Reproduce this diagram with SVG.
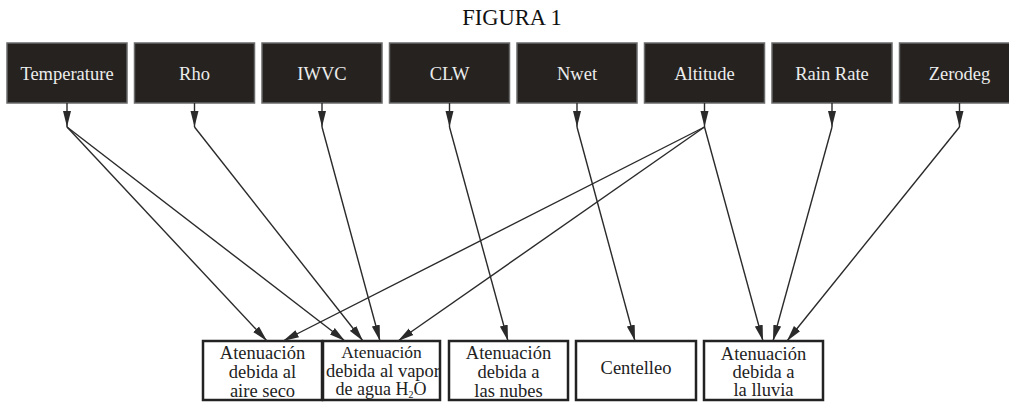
<svg xmlns="http://www.w3.org/2000/svg" width="1009" height="403" viewBox="0 0 1009 403" font-family="'Liberation Serif', 'Times New Roman', serif">
<style>
.top rect{fill:#252220;stroke:#6a6a6a;stroke-width:1.5}
.top text{fill:#ececec;font-family:'Liberation Serif','Times New Roman',serif;font-size:18.5px;text-anchor:middle}
.bot rect{fill:#fff;stroke:#222;stroke-width:2.5}
.bot text{fill:#222;font-family:'Liberation Serif','Times New Roman',serif;font-size:18.5px;text-anchor:middle}
.edges line{stroke:#2a2a2a;stroke-width:1.4;fill:none;marker-end:url(#ah)}
.title{font-family:'Liberation Serif','Times New Roman',serif;font-size:22.5px;fill:#111;text-anchor:middle}
</style>
<defs>
<marker id="ah" markerUnits="userSpaceOnUse" markerWidth="17" markerHeight="9" refX="16" refY="4.5" orient="auto">
<path d="M0,0.5 L16,4.5 L0,8.5 z" fill="#2a2a2a"/>
</marker>
</defs>
<rect width="1009" height="403" fill="#fff"/>
<text class="title" x="512" y="25">FIGURA 1</text>
<g class="top">
<g id="temperature"><rect x="7" y="43" width="120" height="60"/><text x="67" y="80">Temperature</text></g>
<g id="rho"><rect x="134.5" y="43" width="120" height="60"/><text x="194.5" y="80">Rho</text></g>
<g id="iwvc"><rect x="262" y="43" width="120" height="60"/><text x="322" y="80">IWVC</text></g>
<g id="clw"><rect x="389.5" y="43" width="120" height="60"/><text x="449.5" y="80">CLW</text></g>
<g id="nwet"><rect x="517" y="43" width="120" height="60"/><text x="577" y="80">Nwet</text></g>
<g id="altitude"><rect x="644.5" y="43" width="120" height="60"/><text x="704.5" y="80">Altitude</text></g>
<g id="rainrate"><rect x="772" y="43" width="120" height="60"/><text x="832" y="80">Rain Rate</text></g>
<g id="zerodeg"><rect x="899.5" y="43" width="120" height="60"/><text x="959.5" y="80">Zerodeg</text></g>
</g>
<g class="bot">
<g id="aire"><rect x="203" y="341" width="119" height="59"/><text x="262.5" y="359">Atenuación</text><text x="262.5" y="378">debida al</text><text x="262.5" y="397">aire seco</text></g>
<g id="vapor"><rect x="323" y="341" width="117" height="59"/><text x="381.5" y="358" style="font-size:17.5px">Atenuación</text><text x="383" y="377" style="font-size:18px" textLength="114" lengthAdjust="spacingAndGlyphs">debida al vapor</text><text x="381" y="395" style="font-size:18px">de agua H<tspan font-size="10" dy="3">2</tspan><tspan dy="-3">O</tspan></text></g>
<g id="nubes"><rect x="449" y="341" width="119" height="59"/><text x="508.5" y="359">Atenuación</text><text x="508.5" y="378">debida a</text><text x="508.5" y="397">las nubes</text></g>
<g id="centelleo"><rect x="576" y="341" width="120" height="59"/><text x="636" y="374">Centelleo</text></g>
<g id="lluvia"><rect x="704" y="341" width="119" height="59"/><text x="763.5" y="360">Atenuación</text><text x="763.5" y="378">debida a</text><text x="763.5" y="396">la lluvia</text></g>
</g>
<g class="edges">
<line x1="67" y1="103" x2="67" y2="127"/>
<line x1="194.5" y1="103" x2="194.5" y2="127"/>
<line x1="322" y1="103" x2="322" y2="127"/>
<line x1="449.5" y1="103" x2="449.5" y2="127"/>
<line x1="577" y1="103" x2="577" y2="127"/>
<line x1="704.5" y1="103" x2="704.5" y2="127"/>
<line x1="832" y1="103" x2="832" y2="127"/>
<line x1="959.5" y1="103" x2="959.5" y2="127"/>
<line x1="67" y1="127" x2="267" y2="341"/>
<line x1="67" y1="127" x2="345" y2="341"/>
<line x1="194.5" y1="127" x2="363" y2="341"/>
<line x1="322" y1="127" x2="380" y2="341"/>
<line x1="449.5" y1="127" x2="508" y2="341"/>
<line x1="577" y1="127" x2="635" y2="341"/>
<line x1="704.5" y1="127" x2="283" y2="341"/>
<line x1="704.5" y1="127" x2="398" y2="341"/>
<line x1="704.5" y1="127" x2="763" y2="341"/>
<line x1="832" y1="127" x2="773" y2="341"/>
<line x1="959.5" y1="127" x2="787" y2="341"/>
</g>
</svg>
